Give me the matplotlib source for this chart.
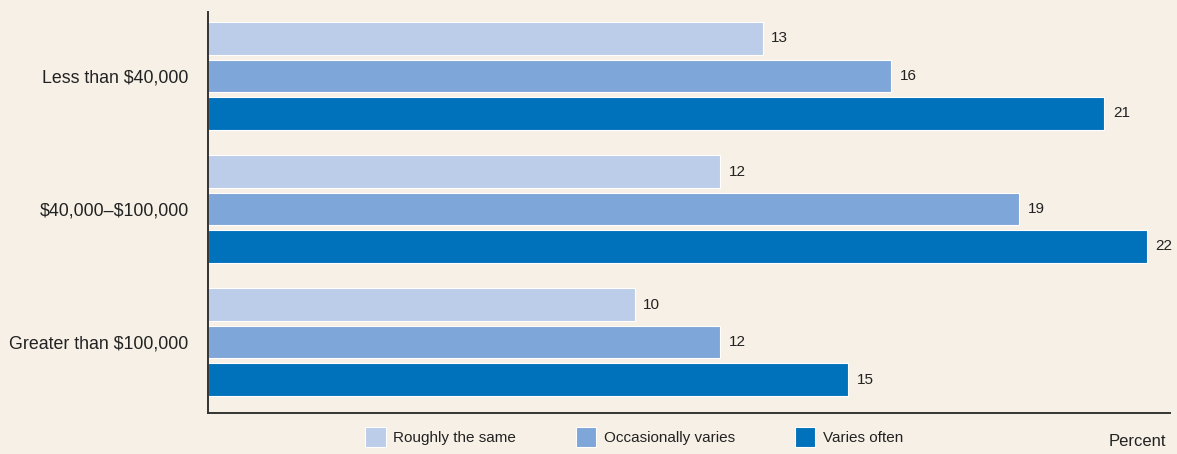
import numpy as np
import matplotlib.pyplot as plt
from matplotlib.patches import Patch

# data
groups = ["Less than \\$40,000", "\\$40,000\u2013\\$100,000", "Greater than \\$100,000"]
series = ["Roughly the same", "Occasionally varies", "Varies often"]
same = [13, 12, 10]
occasionally = [16, 19, 12]
often = [21, 22, 15]

colors = ["#bccde9", "#7ea6d8", "#0071bb"]
bg = "#f7f0e6"
fam = ["Liberation Sans Narrow", "Liberation Sans", "DejaVu Sans"]
plt.rcParams["font.family"] = fam

fig = plt.figure(figsize=(11.77, 4.54), dpi=100, facecolor=bg)
ax = fig.add_axes([208 / 1177, 41 / 454, 962 / 1177, 401 / 454], facecolor=bg)

group_gap = 3.55
centers = np.arange(len(groups)) * group_gap
bar_h = 0.87
for i, (vals, col) in enumerate(zip([same, occasionally, often], colors)):
    ypos = centers + (i - 1)
    ax.barh(ypos, vals, height=bar_h, color=col, edgecolor="white", linewidth=0.8)
    for y, v in zip(ypos, vals):
        ax.text(v + 0.2, y, str(v), va="center", ha="left", fontsize=11, color="#222222")

ax.set_xlim(0, 22.54)
ax.set_ylim(centers[-1] + 1.893, centers[0] - 1.707)
ax.set_yticks(centers)
ax.set_yticklabels(groups, fontsize=12.8, color="#222222")
ax.tick_params(axis="y", length=0, pad=14)
ax.set_xticks([])
for s in ["top", "right"]:
    ax.spines[s].set_visible(False)
for s in ["left", "bottom"]:
    ax.spines[s].set_color("#333333")
    ax.spines[s].set_linewidth(1.4)

handles = [Patch(facecolor=c, edgecolor="white", linewidth=0.8) for c in colors]
fig.legend(handles, series, loc="center", bbox_to_anchor=(634 / 1177, 1 - 437 / 454),
           ncol=3, frameon=False, fontsize=11, handlelength=1.35, handleheight=1.6,
           handletextpad=0.5, columnspacing=3.9, labelcolor="#222222")
fig.text(1166 / 1177, 1 - 441 / 454, "Percent", ha="right", va="center", fontsize=12, color="#222222")

fig.savefig("out.png", dpi=100, facecolor=bg)
